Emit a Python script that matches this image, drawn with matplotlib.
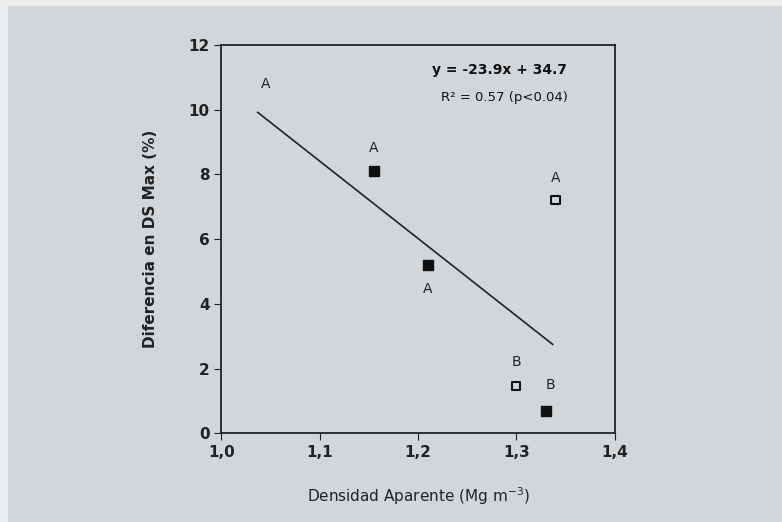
import matplotlib
matplotlib.use("Agg")
import matplotlib.pyplot as plt
import numpy as np
from matplotlib.patches import Rectangle

# solid squares
x_solid = [1.155, 1.21, 1.33]
y_solid = [8.1, 5.2, 0.7]
# open squares
x_open = [1.30, 1.34]
y_open = [1.45, 7.2]
# letters
lab_x = [1.045, 1.155, 1.21, 1.34, 1.30, 1.335]
lab_y = [10.8, 8.8, 4.45, 7.9, 2.2, 1.5]
lab_txt = ["A", "A", "A", "A", "B", "B"]
# fit
slope, intercept = -23.9, 34.7
fit_range = [1.037, 1.337]
xticks = [1.0, 1.1, 1.2, 1.3, 1.4]
xtick_labels = ["1,0", "1,1", "1,2", "1,3", "1,4"]
yticks = [0, 2, 4, 6, 8, 10, 12]

bg = "#d3d6d9"
fig = plt.figure(figsize=(7.82, 5.22), dpi=100, facecolor=bg)
fig.patches.append(Rectangle((0, 0.99), 1, 0.01, transform=fig.transFigure, color="#eceeef", zorder=0))
fig.patches.append(Rectangle((0, 0), 0.009, 1, transform=fig.transFigure, color="#eceeef", zorder=0))
ax = fig.add_axes([0.283, 0.170, 0.503, 0.744])
ax.set_facecolor(bg)

xf = np.array(fit_range)
ax.plot(xf, slope * xf + intercept, color="#222222", lw=1.2)
ax.scatter(x_solid, y_solid, marker="s", s=42, color="#111111", zorder=3)
ax.scatter(x_open, y_open, marker="s", s=36, facecolor="none", edgecolor="#111111", lw=1.5, zorder=3)
for x, y, t in zip(lab_x, lab_y, lab_txt):
    ax.text(x, y, t, ha="center", va="center", fontsize=10, color="#222222")

ax.text(0.88, 0.935, "y = -23.9x + 34.7", transform=ax.transAxes, ha="right", va="center",
        fontsize=10, fontweight="bold", color="#111111")
ax.text(0.88, 0.865, "R² = 0.57 (p<0.04)", transform=ax.transAxes, ha="right", va="center",
        fontsize=9.5, color="#111111")

ax.set_xlim(1.0, 1.4)
ax.set_ylim(0, 12)
ax.set_xticks(xticks)
ax.set_xticklabels(xtick_labels)
ax.set_yticks(yticks)
ax.tick_params(axis="both", direction="out", length=5, labelsize=11, colors="#222222")
for lbl in ax.get_xticklabels() + ax.get_yticklabels():
    lbl.set_fontweight("bold")
for s in ax.spines.values():
    s.set_color("#222222")
    s.set_linewidth(1.3)

ax.set_xlabel("Densidad Aparente (Mg m$^{-3}$)", fontsize=11, labelpad=18, color="#222222")
ax.set_ylabel("Diferencia en DS Max (%)", fontsize=11, fontweight="bold", labelpad=22, color="#222222")

fig.savefig("out.png", dpi=100, facecolor=bg)
